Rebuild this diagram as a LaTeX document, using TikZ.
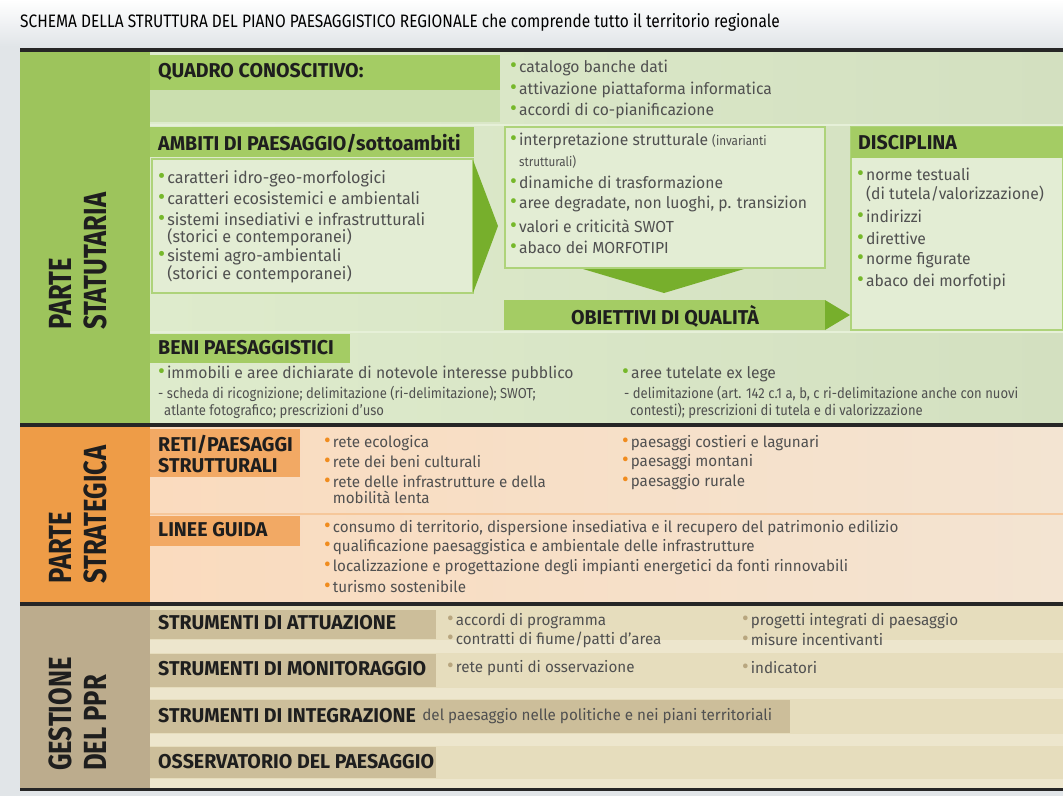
\documentclass[tikz,border=0pt]{standalone}
\usepackage{fontspec}
\setmainfont{Fira Sans}
\newfontfamily\stfont{Fira Sans}[FakeStretch=0.98]
\newfontfamily\cdfont{Fira Sans}[FakeStretch=0.98]
\newfontfamily\ntfont{Fira Sans}[FakeStretch=0.9]
\newfontfamily\sidefont{Fira Sans}[FakeStretch=0.8]
\newfontfamily\ttlfont{Fira Sans}[FakeStretch=0.86]
\usepackage{tikz}
\usetikzlibrary{positioning}
\definecolor{pagebg}{HTML}{E1E5E8}
\definecolor{hdtxt}{HTML}{1E1E1E}
\definecolor{bodytxt}{HTML}{505050}
\definecolor{stside}{HTML}{9DC45C}
\definecolor{sthead}{HTML}{A4CC64}
\definecolor{stbg}{HTML}{DEEBCC}
\definecolor{stbg2}{HTML}{D3E0C0}
\definecolor{stband}{HTML}{CBDFAF}
\definecolor{stbox}{HTML}{E3EDD4}
\definecolor{stsep}{HTML}{E6F0D8}
\definecolor{stline}{HTML}{AED37A}
\definecolor{arrowgr}{HTML}{77AF2C}
\definecolor{grbul}{HTML}{76B82A}
\definecolor{orside}{HTML}{EE9C47}
\definecolor{orhead}{HTML}{F2A964}
\definecolor{orbg}{HTML}{FADBBE}
\definecolor{orbg2}{HTML}{F3E4D2}
\definecolor{orline}{HTML}{F6C79A}
\definecolor{orbul}{HTML}{F08C1E}
\definecolor{tpside}{HTML}{BCAC8D}
\definecolor{tphead}{HTML}{CCBE9A}
\definecolor{tpbg}{HTML}{E6DDBD}
\definecolor{tpgap}{HTML}{EDE6CD}
\definecolor{tpbul}{HTML}{B8A67F}
\newcommand{\dotb}[1]{\textcolor{#1}{\scalebox{1.35}{\textbullet}}\hspace{2pt}}
\newcommand{\ind}{\hphantom{\dotb{black}}}

\begin{document}
\begin{tikzpicture}[x=1pt,y=-1pt]
\tikzstyle{head} = [anchor=west, inner sep=0pt, text=hdtxt, font=\stfont\bfseries\fontsize{20}{22}\selectfont]
\tikzstyle{chead} = [head, font=\cdfont\bfseries\fontsize{20}{21}\selectfont, align=left]
\tikzstyle{item} = [anchor=west, inner sep=0pt, text=bodytxt, align=left, font=\stfont\fontsize{16}{19}\selectfont]
\tikzstyle{bitem} = [item, font=\stfont\fontsize{16.5}{17}\selectfont]
\tikzstyle{citem} = [item, font=\cdfont\fontsize{15.5}{16}\selectfont]
\tikzstyle{note} = [item, font=\ntfont\fontsize{14.5}{17}\selectfont]
\tikzstyle{side} = [rotate=90, anchor=north west, inner sep=0pt, align=left, text=hdtxt, font=\sidefont\bfseries\fontsize{32}{35}\selectfont]
\tikzstyle{blackrule} = [line width=3.5pt, black!85]

\useasboundingbox (0,0) rectangle (1063,796);
\fill[pagebg] (0,0) rectangle (1063,796);
\fill[top color=white, bottom color=pagebg] (0,0) rectangle (1063,46);
\node[anchor=west, inner sep=0pt, text=black, font=\ttlfont\fontsize{18}{20}\selectfont] (title) at (20,22)
  {SCHEMA DELLA STRUTTURA DEL PIANO PAESAGGISTICO REGIONALE che comprende tutto il territorio regionale};

\fill[left color=stbg, right color=stbg2] (150,52) rectangle (1063,424);
\fill[stside] (20,52) rectangle (150,424);
\fill[left color=orbg, right color=orbg2] (150,426) rectangle (1063,603);
\fill[orside] (20,426) rectangle (150,603);
\fill[tpbg] (150,605) rectangle (1063,789);
\fill[tpside] (20,605) rectangle (150,789);

\fill[sthead] (150,55) rectangle (500,90);
\fill[stband] (150,90) rectangle (500,122);
\draw[stsep, line width=2pt] (150,124.5) -- (1063,124.5);
\fill[sthead] (150,127) rectangle (474,157);
\filldraw[fill=stbox, draw=stline, line width=1.2pt] (152,159) rectangle (473,293);
\fill[arrowgr] (473,160) -- (498,226) -- (473,293) -- cycle;
\filldraw[fill=stbox, draw=stline, line width=1.2pt] (505,127) rectangle (825,268);
\fill[arrowgr] (583,269) -- (744,269) -- (664,293) -- cycle;
\fill[sthead] (504,300) rectangle (825,330);
\fill[arrowgr] (825,300) -- (850,315) -- (825,330) -- cycle;
\filldraw[fill=stbox, draw=stline, line width=1.2pt] (851,127) rectangle (1063,330);
\fill[sthead] (851,127) rectangle (1063,158);
\draw[stsep, line width=2pt] (150,332) -- (1063,332);
\fill[sthead] (150,334) rectangle (350,363);

\fill[orhead] (150,429) rectangle (300,477);
\draw[orline, line width=2pt] (150,514) -- (1063,514);
\fill[orhead] (150,516) rectangle (300,546);

\fill[tpgap] (150,640) rectangle (1063,653);
\fill[tpgap] (150,688) rectangle (1063,699);
\fill[tpgap] (150,734) rectangle (1063,746);
\fill[tpgap] (150,779) rectangle (1063,788);
\fill[tphead] (150,610) rectangle (436,639);
\fill[tphead] (150,654) rectangle (436,687);
\fill[tphead] (150,700) rectangle (790,733);
\fill[tphead] (150,747) rectangle (436,778);

\draw[blackrule] (20,50) -- (1063,50);
\draw[blackrule] (20,425) -- (1063,425);
\draw[blackrule] (20,604) -- (1063,604);
\draw[blackrule] (20,789.5) -- (1063,789.5);

\node[side] (statutaria) at (49,330) {PARTE\\STATUTARIA};
\node[side] (strategica) at (49,584) {PARTE\\STRATEGICA};
\node[side] (gestione) at (49,771) {GESTIONE\\DEL PPR};

\node[head] (quadro) at (158,72) {QUADRO CONOSCITIVO:};
\node[item] (q1) at (510,68) {\dotb{grbul}catalogo banche dati};
\node[item] (q2) at (510,90) {\dotb{grbul}attivazione piattaforma informatica};
\node[item] (q3) at (510,111) {\dotb{grbul}accordi di co-pianificazione};

\node[head] (ambiti) at (158,143) {AMBITI DI PAESAGGIO/sottoambiti};
\node[bitem] (a1) at (158,179) {\dotb{grbul}caratteri idro-geo-morfologici};
\node[bitem] (a2) at (158,198.5) {\dotb{grbul}caratteri ecosistemici e ambientali};
\node[bitem] (a3) at (158,229) {\dotb{grbul}sistemi insediativi e infrastrutturali\\\ind(storici e contemporanei)};
\node[bitem] (a4) at (158,266) {\dotb{grbul}sistemi agro-ambientali\\\ind(storici e contemporanei)};

\node[item] (m1) at (510,151) {\dotb{grbul}interpretazione strutturale {\ntfont\fontsize{13}{15}\selectfont(invarianti}\\[2pt]
  \ind{\ntfont\fontsize{13}{15}\selectfont strutturali)}};
\node[item] (m2) at (510,182) {\dotb{grbul}dinamiche di trasformazione};
\node[item] (m3) at (510,204) {\dotb{grbul}aree degradate, non luoghi, p. transizion};
\node[item] (m4) at (510,226) {\dotb{grbul}valori e criticità SWOT};
\node[item] (m5) at (510,247) {\dotb{grbul}abaco dei MORFOTIPI};
\node[head] (obiettivi) at (665,316) [anchor=center] {OBIETTIVI DI QUALITÀ};

\node[head] (disciplina) at (858,143) {DISCIPLINA};
\node[item] (d1) at (857,184.5) {\dotb{grbul}norme testuali\\\ind(di tutela/valorizzazione)};
\node[item] (d2) at (857,216) {\dotb{grbul}indirizzi};
\node[item] (d3) at (857,238) {\dotb{grbul}direttive};
\node[item] (d4) at (857,260) {\dotb{grbul}norme figurate};
\node[item] (d5) at (857,282) {\dotb{grbul}abaco dei morfotipi};

\node[head] (beni) at (158,348) {BENI PAESAGGISTICI};
\node[item] (b1) at (158,374) {\dotb{grbul}immobili e aree dichiarate di notevole interesse pubblico};
\node[note] (b2) at (158,402) {- scheda di ricognizione; delimitazione (ri-delimitazione); SWOT;\\\hspace*{6pt}atlante fotografico; prescrizioni d’uso};
\node[item] (b3) at (622,374) {\dotb{grbul}aree tutelate ex lege};
\node[note] (b4) at (624,402) {- delimitazione (art. 142 c.1 a, b, c ri-delimitazione anche con nuovi\\\hspace*{6pt}contesti); prescrizioni di tutela e di valorizzazione};

\node[chead] (reti) at (158,454) {RETI/PAESAGGI\\STRUTTURALI};
\node[citem] (r1) at (324,443) {\dotb{orbul}rete ecologica};
\node[citem] (r2) at (324,462) {\dotb{orbul}rete dei beni culturali};
\node[citem] (r3) at (324,490) {\dotb{orbul}rete delle infrastrutture e della\\\ind mobilità lenta};
\node[citem] (r4) at (622,443) {\dotb{orbul}paesaggi costieri e lagunari};
\node[citem] (r5) at (622,462) {\dotb{orbul}paesaggi montani};
\node[citem] (r6) at (622,482) {\dotb{orbul}paesaggio rurale};

\node[chead] (linee) at (158,530) {LINEE GUIDA};
\node[citem] (l1) at (324,528) {\dotb{orbul}consumo di territorio, dispersione insediativa e il recupero del patrimonio edilizio};
\node[citem] (l2) at (324,547) {\dotb{orbul}qualificazione paesaggistica e ambientale delle infrastrutture};
\node[citem] (l3) at (324,567) {\dotb{orbul}localizzazione e progettazione degli impianti energetici da fonti rinnovabili};
\node[citem] (l4) at (324,587) {\dotb{orbul}turismo sostenibile};

\node[chead] (attuazione) at (158,623) {STRUMENTI DI ATTUAZIONE};
\node[citem] (g1) at (447,621) {\dotb{tpbul}accordi di programma};
\node[citem] (g2) at (447,640) {\dotb{tpbul}contratti di fiume/patti d’area};
\node[citem] (g3) at (742,621) {\dotb{tpbul}progetti integrati di paesaggio};
\node[citem] (g4) at (742,640) {\dotb{tpbul}misure incentivanti};
\node[chead] (monitoraggio) at (158,669) {STRUMENTI DI MONITORAGGIO};
\node[citem] (g5) at (447,668) {\dotb{tpbul}rete punti di osservazione};
\node[citem] (g6) at (742,668) {\dotb{tpbul}indicatori};
\node[chead] (integrazione) at (158,716) {STRUMENTI DI INTEGRAZIONE};
\node[citem] (g7) [right=6pt of integrazione] {del paesaggio nelle politiche e nei piani territoriali};
\node[chead] (osservatorio) at (158,762) {OSSERVATORIO DEL PAESAGGIO};
\end{tikzpicture}
\end{document}
